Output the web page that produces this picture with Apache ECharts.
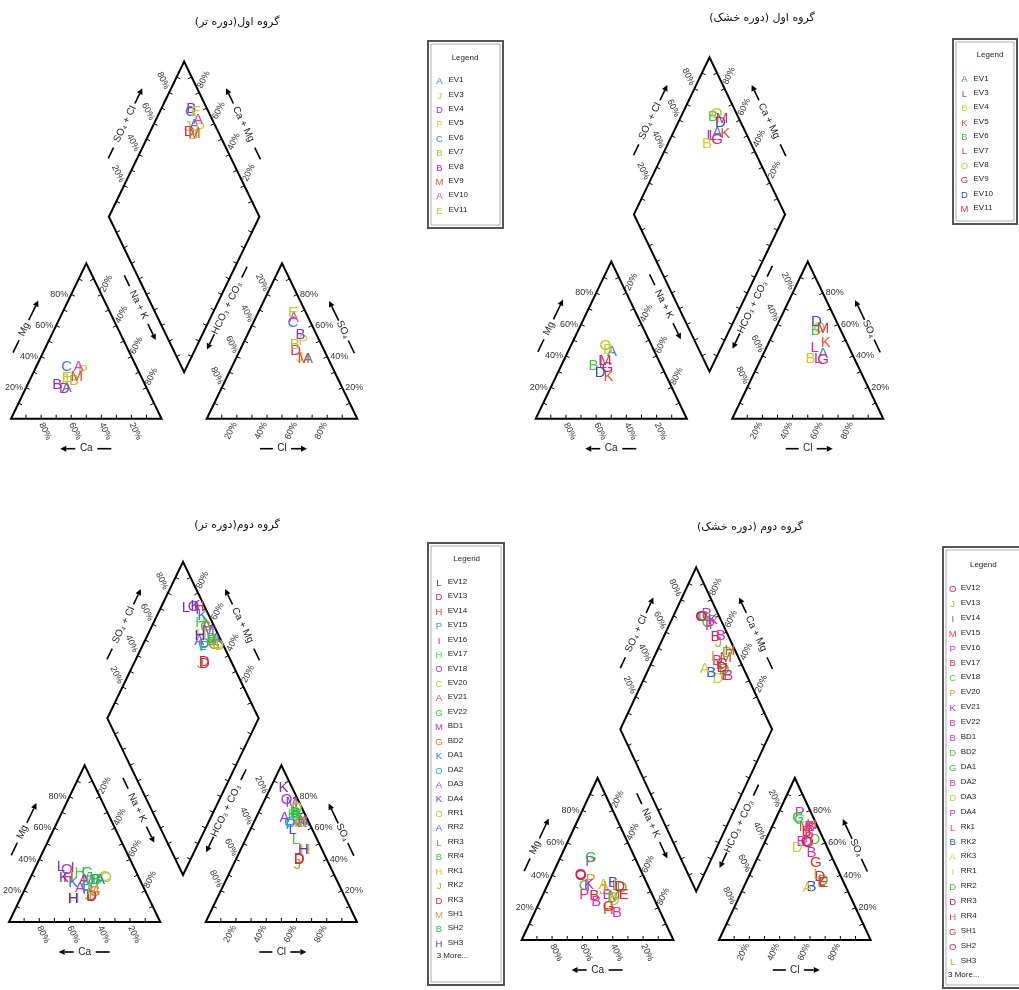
<!DOCTYPE html>
<html><head><meta charset="utf-8">
<script src="https://cdn.jsdelivr.net/npm/echarts/dist/echarts.min.js"></script>
<style>html,body{margin:0;padding:0;background:#fff}#c{width:1019px;height:990px}</style>
</head><body><div id="c"></div>
<script>
// ---------------- DATA (meq %) ----------------
const g1WetTitle = '\u200Fگروه اول(دوره تر)\u200F';
const g1WetSamples = ['EV1','EV3','EV4','EV5','EV6','EV7','EV8','EV9','EV10','EV11'];
const g1WetCa  = [53.1, 51.5, 55.0, 37.0, 46.1, 45.8, 58.3, 42.7, 38.4, 49.6];
const g1WetMg  = [19.7, 25.1, 19.1, 30.5, 33.7, 24.6, 21.8, 27.2, 33.7, 26.6];
const g1WetCl  = [48.0, 42.3, 37.4, 39.1, 26.6, 34.6, 35.2, 45.2, 25.3, 23.2];
const g1WetSO4 = [38.5, 39.1, 43.4, 49.9, 61.4, 47.8, 54.2, 38.5, 65.1, 68.3];

const g1DryTitle = '\u200Fگروه اول (دوره خشک)\u200F';
const g1DrySamples = ['EV1','EV3','EV4','EV5','EV6','EV7','EV8','EV9','EV10','EV11'];
const g1DryCa  = [28.4, 37.4, 30.2, 38.3, 44.8, 38.0, 30.9, 36.3, 42.8, 35.7];
const g1DryMg  = [42.3, 37.0, 44.0, 26.9, 33.8, 35.0, 46.2, 32.3, 29.1, 36.5];
const g1DryCl  = [39.4, 37.8, 32.7, 37.8, 27.4, 32.1, 28.6, 41.6, 25.0, 31.7];
const g1DrySO4 = [41.5, 38.1, 38.1, 48.3, 55.8, 45.1, 58.0, 37.2, 61.5, 56.9];

const g2WetTitle = '\u200Fگروه دوم(دوره تر)\u200F';
const g2WetSamples = ['EV12','EV13','EV14','EV15','EV16','EV17','EV18','EV20','EV21','EV22','BD1','BD2','DA1','DA2','DA3','DA4','RR1','RR2','RR3','RR4','RK1','RK2','RK3','SH1','SH2','SH3'];
const g2WetCa  = [48.0, 37.0, 46.6, 38.0, 40.7, 37.5, 45.2, 22.5, 37.0, 32.4, 34.1, 33.5, 45.1, 37.3, 42.3, 49.6, 21.9, 26.4, 33.0, 28.4, 49.7, 39.0, 37.2, 34.2, 29.7, 50.2];
const g2WetMg  = [35.3, 17.0, 28.4, 20.5, 34.4, 31.2, 33.3, 28.5, 27.0, 31.6, 26.9, 19.4, 24.8, 22.6, 21.6, 28.0, 28.0, 26.9, 27.0, 26.9, 14.6, 17.0, 16.2, 20.5, 26.9, 14.8];
const g2WetCl  = [28.0, 41.5, 31.8, 25.0, 22.0, 23.5, 14.4, 24.0, 31.0, 25.5, 18.8, 30.8, 32.1, 24.1, 18.8, 8.5, 23.7, 33.2, 33.4, 26.0, 42.6, 42.5, 42.0, 30.8, 24.2, 41.7];
const g2WetSO4 = [59.0, 40.5, 64.5, 62.0, 72.0, 68.5, 78.2, 72.0, 64.0, 69.0, 76.0, 63.5, 63.5, 63.3, 66.5, 85.7, 72.9, 64.1, 52.6, 68.0, 46.2, 36.5, 39.7, 63.5, 69.7, 45.8];

const g2DryTitle = '\u200Fگروه دوم (دوره خشک)\u200F';
const g2DrySamples = ['EV12','EV13','EV14','EV15','EV16','EV17','EV18','EV20','EV21','EV22','BD1','BD2','DA1','DA2','DA3','DA4','Rk1','RK2','RK3','RR1','RR2','RR3','RR4','SH1','SH2','SH3','more-1'];
const g2DryCa  = [41.1, 31.1, 39.7, 25.4, 30.8, 38.6, 42.0, 35.9, 38.7, 39.0, 29.5, 27.0, 29.2, 29.0, 26.9, 44.9, 21.0, 22.2, 29.1, 21.7, 18.0, 19.2, 33.5, 32.5, 41.0, 27.0, 18.9];
const g2DryMg  = [39.8, 30.9, 33.0, 27.2, 48.1, 27.2, 33.6, 37.1, 34.0, 23.7, 27.8, 26.0, 50.5, 16.5, 24.3, 27.8, 33.4, 35.4, 34.0, 33.8, 32.0, 32.5, 18.6, 20.6, 40.5, 33.0, 27.8];
const g2DryCl  = [28.9, 25.3, 23.6, 21.6, 14.1, 24.2, 16.0, 25.0, 24.6, 24.9, 24.0, 32.3, 14.5, 34.2, 23.2, 28.0, 49.6, 44.5, 42.4, 48.0, 50.5, 46.9, 25.5, 40.2, 27.5, 45.0, 51.2];
const g2DrySO4 = [59.8, 66.0, 68.0, 70.1, 78.4, 67.0, 74.0, 69.0, 70.0, 70.1, 60.8, 61.8, 75.3, 53.6, 56.7, 63.0, 36.0, 32.9, 31.9, 37.0, 36.5, 39.1, 71.1, 47.4, 60.5, 40.0, 35.0];

const tickLabelValues = [20, 40, 60, 80];

// ---------------- MARKER STYLES (letters / colours) ----------------
const g1WetLetters = ['A','J','D','P','C','B','B','M','A','E'];
const g1WetColors  = ['#3f7fd8','#d6c83a','#d8287a','#d8cc3c','#3a7fe0','#a6c832','#8a2be2','#e0502e','#e03ccf','#b4d22c'];
const g1DryLetters = ['A','L','B','K','B','L','O','G','D','M'];
const g1DryColors  = ['#3f7fd8','#8a3ee0','#d8cc20','#e05530','#44c83c','#e0307e','#b8cc24','#e02070','#2a4fd8','#d8306a'];
const g2WetLetters = ['L','D','H','P','I','H','O','C','A','G','M','G','K','O','A','K','O','A','L','B','H','J','D','M','B','H'];
const g2WetColors  = ['#5a3ad8','#d8206e','#e03a2a','#2a9ad8','#d8205a','#3ad83a','#a03ae0','#b8d030','#e0402a','#30c040','#a03ad8','#d08030','#2a7ad8','#2aa0e0','#a040e0','#7a2ad8','#b0d030','#2a70e0','#3ad040','#30c040','#d8c030','#70c030','#e02a3a','#d0a040','#20c050','#5030d0'];
const g2DryLetters = ['O','J','I','M','P','B','C','P','K','B','B','D','G','B','D','P','L','B','A','I','D','D','H','G','O','L','E'];
const g2DryColors  = ['#d8205a','#90c030','#6a5ad8','#e04848','#e030b0','#e02a3a','#40d040','#d8a030','#a030d8','#d830c0','#c830d0','#50c830','#30c050','#d830b8','#c0d030','#e030a0','#e05530','#2a50e0','#d8c830','#d8d040','#40c040','#d8204a','#e05530','#e03030','#d8205a','#d8a030','#e03030'];

// ---------------- LAYOUT ----------------
const gridBoxes = [
  {left: 11, top: 61.5, width: 346.3, height: 357.2},
  {left: 535.7, top: 57.3, width: 347.6, height: 361.4},
  {left: 9, top: 561.7, width: 348, height: 360.3},
  {left: 521.7, top: 567.3, width: 349, height: 372.7}
];
const titlePos = [[237, 22], [762, 18], [237, 525], [750, 527]];
const legendBoxes = [
  {x: 428, y: 41, w: 75, h: 187, titleX: 465, titleY: 57.5, firstY: 80, step: 14.4, letterX: 439.5, nameX: 448.5},
  {x: 953, y: 39, w: 64, h: 185, titleX: 990, titleY: 54.5, firstY: 78.3, step: 14.4, letterX: 964.5, nameX: 973.5},
  {x: 428, y: 543, w: 76, h: 442, titleX: 466.7, titleY: 558.5, firstY: 581.7, step: 14.44, letterX: 439, nameX: 447.7, moreY: 956, moreX: 436.7},
  {x: 943, y: 547, w: 80, h: 441, titleX: 983.3, titleY: 564.5, firstY: 587.7, step: 14.92, letterX: 952.7, nameX: 960.7, moreY: 975, moreX: 948}
];
const LEGEND_MAX = 26;

// ---------------- PIPER GEOMETRY ----------------
const H = Math.sqrt(3) / 2, G = 0.3;
const V = {
  a0: [0, 0], a1: [1, 0], a2: [0.5, H],
  b0: [1 + G, 0], b1: [2 + G, 0], b2: [1.5 + G, H],
  dB: [1 + G / 2, G * H], dL: [0.5 + G / 2, (1 + G) * H], dT: [1 + G / 2, (2 + G) * H], dR: [1.5 + G / 2, (1 + G) * H]
};
const CENT = {L: [0.5, H / 3], R: [1.5 + G, H / 3], D: [1 + G / 2, (1 + G) * H]};

function cationXY(ca, mg) { const nak = 100 - ca - mg; return [nak / 100 + mg / 200, mg / 100 * H]; }
function anionXY(cl, so4) { return [1 + G + cl / 100 + so4 / 200, so4 / 100 * H]; }
function diamondXY(ca, mg, cl, so4) { const c = ca + mg, a = cl + so4; return [1 + G / 2 + (a - c) / 200, G * H + (a + c) / 100 * H]; }

const sub = (a, b) => [a[0] - b[0], a[1] - b[1]];
const add = (a, b) => [a[0] + b[0], a[1] + b[1]];
const mul = (a, s) => [a[0] * s, a[1] * s];
const dot = (a, b) => a[0] * b[0] + a[1] * b[1];
const norm = a => mul(a, 1 / Math.hypot(a[0], a[1]));
const lerp = (a, b, t) => [a[0] + (b[0] - a[0]) * t, a[1] + (b[1] - a[1]) * t];

const LABEL_FONT = '9px "Liberation Sans", Arial, sans-serif';
const TITLE_FONT = '10px "Liberation Sans", Arial, sans-serif';

const tickLabelSpecs = [
  {from: 'a1', to: 'a0', dx: 4, dy: 12.5, rot: 'down'},
  {from: 'a0', to: 'a2', dx: -3, dy: 0, rot: 0, align: 'right'},
  {from: 'a2', to: 'a1', dx: 5, dy: -11, rot: 'up'},
  {from: 'b0', to: 'b1', dx: -6, dy: 12, rot: 'up'},
  {from: 'b1', to: 'b2', dx: 3, dy: 0, rot: 0, align: 'left'},
  {from: 'b2', to: 'b0', dx: -5, dy: -12, rot: 'down'},
  {from: 'dL', to: 'dT', dx: -6, dy: -12, rot: 'down'},
  {from: 'dR', to: 'dT', dx: 4.5, dy: -13, rot: 'up'}
];
const axisTitleSpecs = [
  {from: 'a0', to: 'a2', c: 'L', d: 27, t: 0, tail: [-26, -12], arrow: [10, 32], text: 'Mg'},
  {from: 'a1', to: 'a0', c: 'L', d: 30, t: 0, tail: [-25, -11], arrow: [11, 26], text: 'Ca'},
  {from: 'a2', to: 'a1', c: 'L', d: 29, t: -26, tail: [-59, -47], arrow: [-5, 13], text: 'Na + K'},
  {from: 'b2', to: 'b0', c: 'R', d: 30, t: -22, tail: [-68, -56], arrow: [7, 24], text: 'HCO\u2083 + CO\u2083'},
  {from: 'b1', to: 'b2', c: 'R', d: 26, t: 0, tail: [-26, -12], arrow: [10, 32], text: 'SO\u2084'},
  {from: 'b0', to: 'b1', c: 'R', d: 30, t: 0, tail: [-22, -9], arrow: [9, 25], text: 'Cl'},
  {from: 'dL', to: 'dT', c: 'D', d: 26, t: 4, tail: [-34, -22], arrow: [27, 44], text: 'SO\u2084 + Cl'},
  {from: 'dR', to: 'dT', c: 'D', d: 26, t: 4, tail: [-35, -22], arrow: [27, 44], text: 'Ca + Mg'}
];

function frameRender(params, api) {
  const P = p => api.coord(p);
  const ch = [];
  const shapes = [
    {pts: [V.a0, V.a1, V.a2], c: CENT.L},
    {pts: [V.b0, V.b1, V.b2], c: CENT.R},
    {pts: [V.dB, V.dR, V.dT, V.dL], c: CENT.D}
  ];
  shapes.forEach(s => {
    const px = s.pts.map(P), cp = P(s.c);
    ch.push({type: 'polygon', shape: {points: px}, style: {fill: 'none', stroke: '#000', lineWidth: 2}});
    px.forEach((p0, i) => {
      const p1 = px[(i + 1) % px.length];
      const e = norm(sub(p1, p0));
      let n = [-e[1], e[0]];
      if (dot(sub(cp, lerp(p0, p1, 0.5)), n) < 0) n = mul(n, -1);
      for (let k = 1; k < 10; k++) {
        const q = lerp(p0, p1, k / 10);
        ch.push({type: 'line', shape: {x1: q[0], y1: q[1], x2: q[0] + n[0] * 4, y2: q[1] + n[1] * 4}, style: {stroke: '#000', lineWidth: 1}});
      }
    });
  });
  const p0 = P(V.a0), p2 = P(V.a2);
  const th = Math.atan2(p0[1] - p2[1], p2[0] - p0[0]);
  tickLabelSpecs.forEach(s => {
    const A = P(V[s.from]), B = P(V[s.to]);
    tickLabelValues.forEach(v => {
      const q = lerp(A, B, v / 100);
      ch.push({type: 'text', x: q[0] + s.dx, y: q[1] + s.dy,
        rotation: s.rot === 'up' ? th : (s.rot === 'down' ? -th : 0),
        style: {text: v + '%', font: LABEL_FONT, fill: '#333', textAlign: s.align || 'center', textVerticalAlign: 'middle'}});
    });
  });
  axisTitleSpecs.forEach(s => {
    const A = P(V[s.from]), B = P(V[s.to]);
    const u = norm(sub(B, A)), m = lerp(A, B, 0.5), cp = P(CENT[s.c]);
    let n = [-u[1], u[0]];
    if (dot(sub(cp, m), n) > 0) n = mul(n, -1);
    const base = add(m, mul(n, s.d));
    const at = t => add(base, mul(u, t));
    let ang = Math.atan2(-u[1], u[0]);
    if (ang > Math.PI / 2) ang -= Math.PI;
    if (ang <= -Math.PI / 2) ang += Math.PI;
    const tc = at(s.t);
    ch.push({type: 'text', x: tc[0], y: tc[1], rotation: ang,
      style: {text: s.text, font: TITLE_FONT, fill: '#222', textAlign: 'center', textVerticalAlign: 'middle'}});
    const t1 = at(s.tail[0]), t2 = at(s.tail[1]);
    ch.push({type: 'line', shape: {x1: t1[0], y1: t1[1], x2: t2[0], y2: t2[1]}, style: {stroke: '#000', lineWidth: 1.6}});
    const a1 = at(s.arrow[0]), a2 = at(s.arrow[1]), ab = at(s.arrow[1] - 6);
    ch.push({type: 'line', shape: {x1: a1[0], y1: a1[1], x2: ab[0], y2: ab[1]}, style: {stroke: '#000', lineWidth: 1.6}});
    ch.push({type: 'polygon', shape: {points: [a2, add(ab, mul(n, 3)), add(ab, mul(n, -3))]}, style: {fill: '#000'}});
  });
  return {type: 'group', children: ch};
}

function makePointRender(letters, colors) {
  return function (params, api) {
    const k = api.value(2);
    const p = api.coord([api.value(0), api.value(1)]);
    return {type: 'text', x: p[0], y: p[1],
      style: {text: letters[k], fill: colors[k], font: '15px "Liberation Sans", Arial, sans-serif', textAlign: 'center', textVerticalAlign: 'middle'}};
  };
}

const diagrams = [
  {title: g1WetTitle, names: g1WetSamples, ca: g1WetCa, mg: g1WetMg, cl: g1WetCl, so4: g1WetSO4, letters: g1WetLetters, colors: g1WetColors},
  {title: g1DryTitle, names: g1DrySamples, ca: g1DryCa, mg: g1DryMg, cl: g1DryCl, so4: g1DrySO4, letters: g1DryLetters, colors: g1DryColors},
  {title: g2WetTitle, names: g2WetSamples, ca: g2WetCa, mg: g2WetMg, cl: g2WetCl, so4: g2WetSO4, letters: g2WetLetters, colors: g2WetColors},
  {title: g2DryTitle, names: g2DrySamples, ca: g2DryCa, mg: g2DryMg, cl: g2DryCl, so4: g2DrySO4, letters: g2DryLetters, colors: g2DryColors}
];

const grids = [], xAxes = [], yAxes = [], series = [], graphics = [];
diagrams.forEach((d, i) => {
  grids.push(Object.assign({containLabel: false}, gridBoxes[i]));
  xAxes.push({type: 'value', gridIndex: i, min: 0, max: 2 + G, show: false});
  yAxes.push({type: 'value', gridIndex: i, min: 0, max: (2 + G) * H, show: false});
  const pts = [];
  d.names.forEach((n, k) => pts.push(cationXY(d.ca[k], d.mg[k]).concat([k])));
  d.names.forEach((n, k) => pts.push(anionXY(d.cl[k], d.so4[k]).concat([k])));
  d.names.forEach((n, k) => pts.push(diamondXY(d.ca[k], d.mg[k], d.cl[k], d.so4[k]).concat([k])));
  series.push({type: 'custom', xAxisIndex: i, yAxisIndex: i, silent: true, clip: false, z: 1,
    data: [[0, 0]], encode: {x: 0, y: 1}, renderItem: frameRender});
  series.push({type: 'custom', xAxisIndex: i, yAxisIndex: i, silent: true, clip: false, z: 2,
    data: pts, encode: {x: 0, y: 1}, renderItem: makePointRender(d.letters, d.colors)});
  graphics.push({type: 'text', x: titlePos[i][0], y: titlePos[i][1],
    style: {text: d.title, font: '11px "DejaVu Sans", sans-serif', fill: '#111', textAlign: 'center', textVerticalAlign: 'middle'}});
  const L = legendBoxes[i];
  graphics.push({type: 'rect', shape: {x: L.x, y: L.y, width: L.w, height: L.h}, style: {fill: '#fff', stroke: '#555', lineWidth: 2}});
  graphics.push({type: 'rect', shape: {x: L.x + 3, y: L.y + 3, width: L.w - 6, height: L.h - 6}, style: {fill: 'none', stroke: '#999', lineWidth: 0.8}});
  graphics.push({type: 'text', x: L.titleX, y: L.titleY,
    style: {text: 'Legend', font: '8px "Liberation Sans", Arial, sans-serif', fill: '#222', textAlign: 'center', textVerticalAlign: 'middle'}});
  const shown = Math.min(d.names.length, LEGEND_MAX);
  for (let k = 0; k < shown; k++) {
    const y = L.firstY + k * L.step;
    graphics.push({type: 'text', x: L.letterX, y: y + 1.5,
      style: {text: d.letters[k], font: '9.5px "Liberation Sans", Arial, sans-serif', fill: d.colors[k], textAlign: 'center', textVerticalAlign: 'middle'}});
    graphics.push({type: 'text', x: L.nameX, y: y,
      style: {text: d.names[k], font: '8px "Liberation Sans", Arial, sans-serif', fill: '#222', textAlign: 'left', textVerticalAlign: 'middle'}});
  }
  if (L.moreY) {
    graphics.push({type: 'text', x: L.moreX, y: L.moreY,
      style: {text: '3 More...', font: '8px "Liberation Sans", Arial, sans-serif', fill: '#222', textAlign: 'left', textVerticalAlign: 'middle'}});
  }
});

const chart = echarts.init(document.getElementById('c'), null, {width: 1019, height: 990});
chart.setOption({
  animation: false,
  backgroundColor: '#fff',
  grid: grids, xAxis: xAxes, yAxis: yAxes,
  series: series,
  graphic: graphics
});
</script></body></html>
